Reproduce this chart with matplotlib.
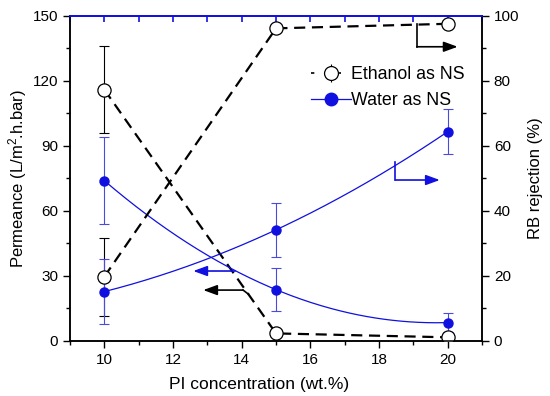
import numpy as np
import matplotlib
matplotlib.use('Agg')
import matplotlib.pyplot as plt
from matplotlib.ticker import MultipleLocator

plt.rcParams['font.family'] = ['Liberation Sans', 'DejaVu Sans']
plt.rcParams['mathtext.default'] = 'regular'

# PI concentration (wt.%)
conc = np.array([10, 15, 20])

# ethanol as non-solvent
eth_perm = np.array([116, 3.5, 1.7])
eth_perm_err = np.array([20, 1.0, 1.0])
eth_rej = np.array([19.8, 96.2, 97.6])
eth_rej_err = np.array([12, 1.0, 1.0])

# water as non-solvent
wat_perm = np.array([74, 23.7, 8.5])
wat_perm_err = np.array([20, 10, 4.5])
wat_rej = np.array([15.2, 34.2, 64.4])
wat_rej_err = np.array([10, 8.3, 7])

black = 'black'
blue = '#1010e0'
eblue = '#4a4ae0'
dash = (0, (5, 3))

fig = plt.figure(figsize=(5.5, 3.96), dpi=100)
ax = fig.add_axes([0.1273, 0.1389, 0.7491, 0.8207])
ax2 = ax.twinx()

# smooth connector for water series (spline-like)
xs = np.linspace(10, 20, 200)

# left axis: permeance
ax.errorbar(conc, eth_perm, yerr=eth_perm_err, fmt='none', ecolor=black,
            elinewidth=0.8, capsize=3.5, capthick=0.8, zorder=2)
ax.plot(conc, eth_perm, ls=dash, color=black, lw=1.6, zorder=3)
ax.plot(conc, eth_perm, 'o', ms=9.5, mfc='white', mec=black, mew=0.9, zorder=4)

ax.errorbar(conc, wat_perm, yerr=wat_perm_err, fmt='none', ecolor=eblue,
            elinewidth=0.8, capsize=3.5, capthick=0.8, zorder=2)
ax.plot(xs, np.polyval(np.polyfit(conc, wat_perm, 2), xs), color=blue, lw=0.9, zorder=3)
ax.plot(conc, wat_perm, 'o', ms=6.5, color=blue, zorder=4)

# right axis: rejection
ax2.errorbar(conc, eth_rej, yerr=eth_rej_err, fmt='none', ecolor=black,
             elinewidth=0.8, capsize=3.5, capthick=0.8, zorder=2)
ax2.plot(conc, eth_rej, ls=dash, color=black, lw=1.6, zorder=3)
ax2.plot(conc, eth_rej, 'o', ms=9.5, mfc='white', mec=black, mew=0.9, zorder=4)

ax2.errorbar(conc, wat_rej, yerr=wat_rej_err, fmt='none', ecolor=eblue,
             elinewidth=0.8, capsize=3.5, capthick=0.8, zorder=2)
ax2.plot(xs, np.polyval(np.polyfit(conc, wat_rej, 2), xs), color=blue, lw=0.9, zorder=3)
ax2.plot(conc, wat_rej, 'o', ms=6.5, color=blue, zorder=4)

# legend
h_eth = ax2.errorbar([], [], yerr=[], fmt='o', ls=(0, (2, 6)), color=black, lw=1.2,
                     ms=10, mfc='white', mec=black, mew=0.9, elinewidth=0.8)
h_wat, = ax2.plot([], [], 'o-', color=blue, lw=0.9, ms=9)
ax2.legend([h_eth, h_wat], ['Ethanol as NS', 'Water as NS'], loc='upper left',
           bbox_to_anchor=(0.545, 0.895), frameon=False, fontsize=12.8,
           handlelength=2.3, handletextpad=0.0, labelspacing=0.5)

# arrows
ap = dict(arrowstyle='-|>,head_length=0.6,head_width=0.22', lw=1.2, shrinkA=0, shrinkB=0)
ax.plot([14.19, 14.04], [21.7, 23.5], color=black, lw=1.2)
ax.annotate('', xy=(12.88, 23.5), xytext=(14.04, 23.5),
            arrowprops=dict(ap, color=black, mutation_scale=14))
ax.annotate('', xy=(12.59, 32.3), xytext=(13.81, 32.3),
            arrowprops=dict(ap, color=blue, mutation_scale=14))
ax.plot([19.1, 19.1], [146.3, 135.8], color=black, lw=1.2)
ax.annotate('', xy=(20.29, 135.8), xytext=(19.1, 135.8),
            arrowprops=dict(ap, color=black, mutation_scale=14))
ax.plot([18.48, 18.48], [82.6, 74.3], color=blue, lw=1.2)
ax.annotate('', xy=(19.77, 74.3), xytext=(18.48, 74.3),
            arrowprops=dict(ap, color=blue, mutation_scale=14))

# axes styling
ax.set_xlim(9, 21)
ax.set_ylim(0, 150)
ax2.set_ylim(0, 100)
ax.xaxis.set_major_locator(MultipleLocator(2))
ax.xaxis.set_minor_locator(MultipleLocator(1))
ax.yaxis.set_major_locator(MultipleLocator(30))
ax.yaxis.set_minor_locator(MultipleLocator(15))
ax2.yaxis.set_major_locator(MultipleLocator(20))
ax2.yaxis.set_minor_locator(MultipleLocator(10))

ax.tick_params(axis='both', which='both', direction='out', labelsize=11, width=1)
ax.tick_params(which='major', length=5)
ax.tick_params(which='minor', length=3)
ax.tick_params(axis='x', which='both', top=False)
ax2.tick_params(axis='y', which='both', direction='out', labelsize=11, width=1)
ax2.tick_params(which='major', length=5)
ax2.tick_params(which='minor', length=3)

# blue ticks on the top edge, pointing inward
ax2.xaxis.set_visible(True)
ax2.tick_params(axis='x', which='both', top=True, bottom=False, labeltop=False,
                labelbottom=False, direction='in', color=blue, width=1.2, length=4)

for s in ('left', 'bottom', 'right'):
    ax.spines[s].set_linewidth(1.1)
    ax2.spines[s].set_linewidth(1.1)
ax.spines['top'].set_color(blue)
ax2.spines['top'].set_color(blue)
ax2.spines['top'].set_linewidth(1.3)
ax.spines['top'].set_linewidth(1.3)

ax.set_xlabel('PI concentration (wt.%)', fontsize=12.5)
ax.xaxis.set_label_coords(0.459, -0.11)
ax.set_ylabel('Permeance (L/m$^2$.h.bar)', fontsize=12, labelpad=3)
ax2.set_ylabel('RB rejection (%)', fontsize=12, labelpad=6)

fig.savefig('out.png', dpi=100)
